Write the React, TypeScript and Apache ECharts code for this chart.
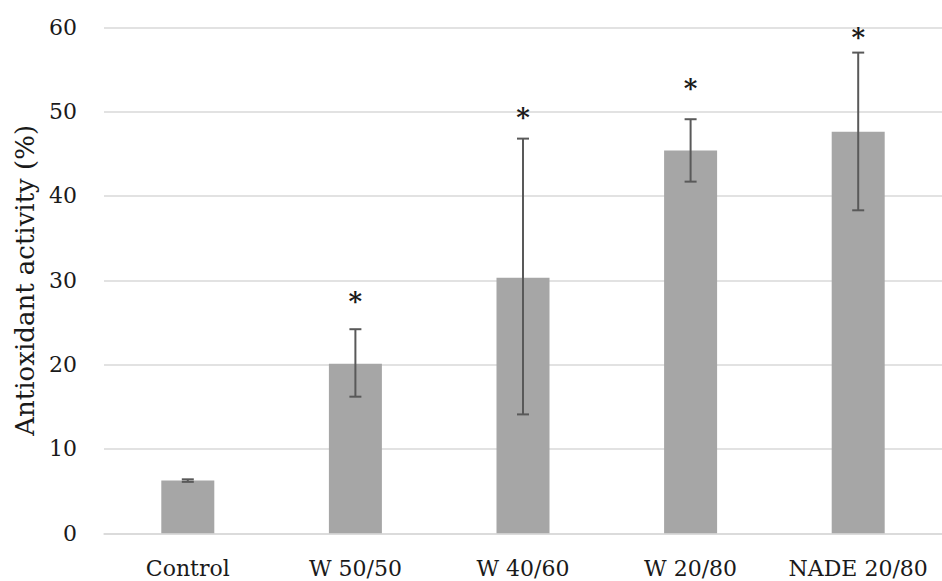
import React, { useEffect, useRef } from "react";
import * as echarts from "echarts";

const categories = ["Control", "W 50/50", "W 40/60", "W 20/80", "NADE 20/80"];
const means = [6.25, 20.1, 30.3, 45.4, 47.6];
const errLow = [6.1, 16.2, 14.1, 41.7, 38.3];
const errHigh = [6.4, 24.2, 46.8, 49.1, 57.0];
const starY: (number | null)[] = [null, 28.1, 50.0, 53.4, 59.5];
const yTicks = { min: 0, max: 60, interval: 10 };

const FONT = "'DejaVu Serif', 'Liberation Serif', serif";

export default function App() {
  const ref = useRef<HTMLDivElement>(null);
  useEffect(() => {
    if (!ref.current) return;
    const chart = echarts.init(ref.current, undefined, { renderer: "svg" });
    const errData = categories.map((_, i) => [i, errLow[i], errHigh[i], starY[i] == null ? -1 : starY[i]]);
    chart.setOption({
      animation: false,
      backgroundColor: "#ffffff",
      grid: { left: 104, top: 27.3, width: 847, height: 506, containLabel: false },
      xAxis: {
        type: "category",
        data: categories,
        boundaryGap: true,
        axisTick: { show: false },
        axisLine: { show: true, lineStyle: { color: "#d9d9d9", width: 1.5 } },
        axisLabel: { color: "#1a1a1a", fontFamily: FONT, fontSize: 22, margin: 24, interval: 0 },
      },
      yAxis: {
        type: "value",
        min: yTicks.min,
        max: yTicks.max,
        interval: yTicks.interval,
        axisLine: { show: false },
        axisTick: { show: false },
        splitLine: { lineStyle: { color: "#d9d9d9", width: 1.5 } },
        axisLabel: { color: "#1a1a1a", fontFamily: FONT, fontSize: 22, margin: 27 },
        name: "Antioxidant activity (%)",
        nameLocation: "middle",
        nameRotate: 90,
        nameGap: 62,
        nameTextStyle: { color: "#1a1a1a", fontFamily: FONT, fontSize: 26 },
      },
      series: [
        {
          type: "bar",
          data: means,
          barWidth: 53,
          itemStyle: { color: "#a6a6a6" },
          z: 2,
        },
        {
          type: "custom",
          data: errData,
          z: 5,
          renderItem: (params: any, api: any) => {
            const i = api.value(0);
            const lo = api.coord([i, api.value(1)]);
            const hi = api.coord([i, api.value(2)]);
            const cap = 6;
            const stroke = { stroke: "#595959", lineWidth: 2 };
            const children: any[] = [
              { type: "line", shape: { x1: lo[0], y1: lo[1], x2: hi[0], y2: hi[1] }, style: stroke },
              { type: "line", shape: { x1: lo[0] - cap, y1: lo[1], x2: lo[0] + cap, y2: lo[1] }, style: stroke },
              { type: "line", shape: { x1: hi[0] - cap, y1: hi[1], x2: hi[0] + cap, y2: hi[1] }, style: stroke },
            ];
            const s = api.value(3);
            if (s >= 0) {
              const p = api.coord([i, s]);
              children.push({
                type: "text",
                x: p[0],
                y: p[1] + 5,
                style: {
                  text: "*",
                  fill: "#1a1a1a",
                  font: `bold 26px ${FONT}`,
                  textAlign: "center",
                  textVerticalAlign: "middle",
                },
              });
            }
            return { type: "group", children };
          },
        },
      ],
    });
    return () => chart.dispose();
  }, []);
  return <div ref={ref} style={{ position: "fixed", left: 0, top: 0, width: 942, height: 581, background: "#fff" }} />;
}
